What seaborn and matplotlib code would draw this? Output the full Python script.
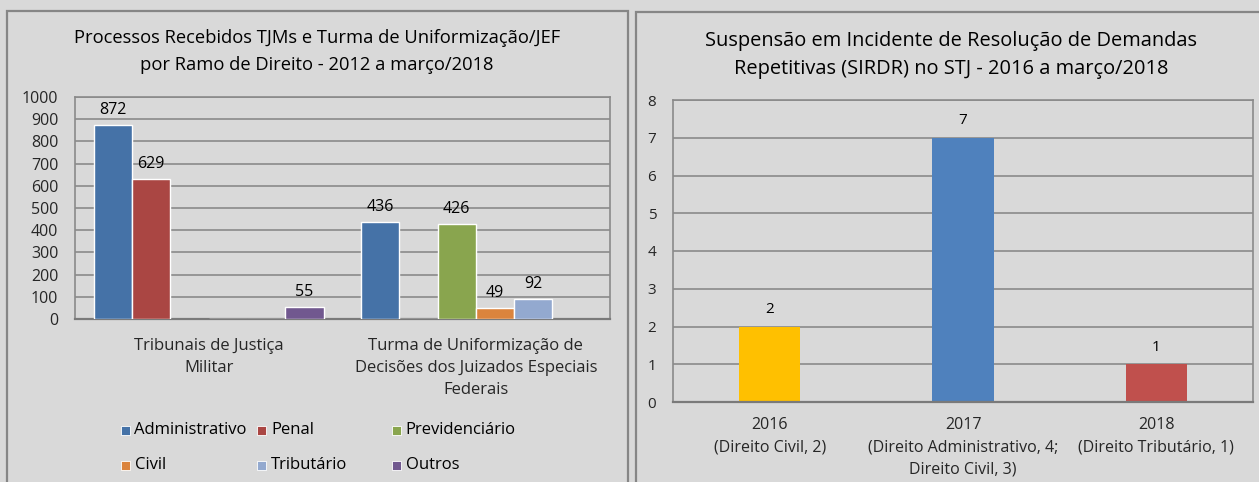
import matplotlib
matplotlib.use("Agg")
import matplotlib.pyplot as plt
from matplotlib.patches import Rectangle
import numpy as np
import pandas as pd
import seaborn as sns

# left chart: processos recebidos por ramo de direito
orgaos = ["Tribunais de Justiça\nMilitar",
          "Turma de Uniformização de\nDecisões dos Juizados Especiais\nFederais"]
ramos = ["Administrativo", "Penal", "Previdenciário", "Civil", "Tributário", "Outros"]
tjm = [872, 629, np.nan, 0, 0, 55]
tnu = [436, 0, 426, 49, 92, np.nan]
cores_ramos = ["#4572A7", "#AA4643", "#89A54E", "#DB843D", "#93A9CF", "#71588F"]

# right chart: suspensoes em IRDR no STJ
anos = ["2016\n(Direito Civil, 2)",
        "2017\n(Direito Administrativo, 4;\nDireito Civil, 3)",
        "2018\n(Direito Tributário, 1)"]
suspensoes = [2, 7, 1]
cores_anos = ["#FFC000", "#4F81BD", "#C0504D"]

BG = "#D9D9D9"
GRID = "#8A8A8A"
W, H = 1259, 482

sns.set_style("white")
plt.rcParams["font.family"] = ["Open Sans", "DejaVu Sans"]
plt.rcParams["text.color"] = "black"

fig = plt.figure(figsize=(W / 100, H / 100), dpi=100)
fig.patch.set_facecolor(BG)

# panel frames
for x0, y0, x1 in [(6.5, 10.5, 627.5), (635.5, 12, 1300)]:
    fig.add_artist(Rectangle((x0 / W, -0.1), (x1 - x0) / W, (H - y0) / H + 0.1,
                             transform=fig.transFigure, fill=False,
                             ec="#868686", lw=1.6, clip_on=False))


def style_axes(ax, ymax, step):
    ax.set_facecolor(BG)
    ax.set_ylim(0, ymax)
    ax.set_yticks(np.arange(0, ymax + step, step))
    ax.yaxis.grid(True, color=GRID, lw=1.2)
    ax.set_axisbelow(True)
    for s in ["left", "right", "top"]:
        ax.spines[s].set_color(GRID)
        ax.spines[s].set_linewidth(1.2)
    ax.spines["bottom"].set_color("#7A7A7A")
    ax.spines["bottom"].set_linewidth(1.6)
    ax.tick_params(length=0)
    ax.set_xlabel("")
    ax.set_ylabel("")


# ---- left chart
df_l = pd.DataFrame({
    "orgao": np.repeat(orgaos, len(ramos)),
    "ramo": ramos * 2,
    "valor": tjm + tnu,
})
ax1 = fig.add_axes([75 / W, 1 - 319 / H, 534.5 / W, 222 / H])
sns.barplot(data=df_l, x="orgao", y="valor", hue="ramo", order=orgaos,
            hue_order=ramos, palette=cores_ramos, saturation=1, width=0.86, gap=0,
            errorbar=None, edgecolor="white", linewidth=1, legend=False,
            zorder=3, ax=ax1)
style_axes(ax1, 1000, 100)
ax1.tick_params(axis="y", labelsize=11.5, pad=12)
ax1.tick_params(axis="x", labelsize=12, pad=14)
for lab in ax1.get_xticklabels():
    lab.set_linespacing(1.5)
for c in ax1.containers:
    ax1.bar_label(c, labels=[f"{v:.0f}" if v > 0 else "" for v in c.datavalues],
                  padding=5, fontsize=11.5)

fig.text(317 / W, 1 - 51.5 / H,
         "Processos Recebidos TJMs e Turma de Uniformização/JEF\npor Ramo de Direito - 2012 a março/2018",
         ha="center", va="center", fontsize=13.2, linespacing=1.6)

# manual legend, 3 columns x 2 rows
leg_x = [120.5, 257, 391.7]
leg_y = [430, 465]
for i, (nome, cor) in enumerate(zip(ramos, cores_ramos)):
    x = leg_x[i % 3]
    y = leg_y[i // 3]
    fig.add_artist(Rectangle((x / W, 1 - (y + 4.5) / H), 9 / W, 9 / H,
                             transform=fig.transFigure, fc=cor, ec="white", lw=0.6))
    fig.text((x + 14) / W, 1 - y / H, nome, ha="left", va="center", fontsize=12)

# ---- right chart
df_r = pd.DataFrame({"ano": anos, "n": suspensoes})
ax2 = fig.add_axes([673 / W, 1 - 402 / H, 580 / W, 302 / H])
sns.barplot(data=df_r, x="ano", y="n", hue="ano", order=anos, hue_order=anos,
            palette=cores_anos, saturation=1, width=0.316, errorbar=None,
            linewidth=0, legend=False, ax=ax2)
style_axes(ax2, 8, 1)
ax2.tick_params(axis="y", labelsize=11, pad=12)
ax2.tick_params(axis="x", labelsize=11.5, pad=11)
for lab in ax2.get_xticklabels():
    lab.set_linespacing(1.5)
for c in ax2.containers:
    ax2.bar_label(c, fmt="%.0f", padding=7, fontsize=11)

fig.text(951 / W, 1 - 55 / H,
         "Suspensão em Incidente de Resolução de Demandas\nRepetitivas (SIRDR) no STJ - 2016 a março/2018",
         ha="center", va="center", fontsize=14.4, linespacing=1.55)

fig.savefig("out.png", dpi=100, facecolor=BG)
